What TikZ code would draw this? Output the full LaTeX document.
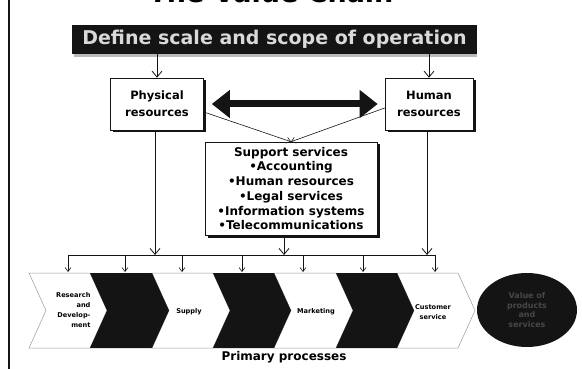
\documentclass[tikz,border=0pt]{standalone}
\usepackage{fontspec}
\setmainfont{DejaVu Sans}
\usetikzlibrary{arrows.meta,shapes.geometric,shadows,calc}

\definecolor{ink}{gray}{0.08}
\definecolor{rim}{gray}{0.6}

\tikzset{
  resbox/.style={draw=ink, line width=0.6pt, fill=white, align=center,
    font=\fontsize{11.5}{17}\selectfont\bfseries,
    drop shadow={shadow xshift=2.5pt, shadow yshift=-2.5pt, fill=ink, opacity=1}},
  feed/.style={draw=ink, line width=0.8pt, -{Straight Barb[length=6pt,width=10pt]}},
  tap/.style={draw=ink, line width=0.6pt, -{Straight Barb[length=4pt,width=6pt]}},
  whitechev/.style={draw=rim, line width=0.5pt, fill=white},
  darkchev/.style={fill=ink},
  steplabel/.style={font=\fontsize{6.6}{10}\selectfont\bfseries},
}

\begin{document}
\begin{tikzpicture}[x=1pt,y=-1pt]
\useasboundingbox (0,0) rectangle (582,369);
\clip (0,0) rectangle (582,369);

% title, running off the top edge
\node[font=\fontsize{27}{30}\selectfont\bfseries, anchor=base, inner sep=0] (title) at (271,2.5) {The Value Chain};

% left frame rule
\coordinate (frameT) at (9,0);
\coordinate (frameB) at (9,369);
\draw[line width=1.2pt, ink] (frameT) -- (frameB);

% scope banner with its grey shadow strip
\fill[gray!55] (74,53) rectangle (477,57);
\node[fill=ink, minimum width=405, minimum height=29, inner sep=0,
      text=gray!30, font=\fontsize{19}{20}\selectfont\bfseries] (scope) at (274.5,39.5)
      {Define scale and scope of operation};

% resource boxes
\node[resbox, minimum width=93, minimum height=52] (phys) at (157,104) {Physical\\resources};
\node[resbox, minimum width=88, minimum height=52] (human) at (429,104) {Human\\resources};

% support services
\node[resbox, minimum width=172, minimum height=93, inner sep=2pt,
      font=\fontsize{12}{14.7}\selectfont\bfseries] (support) at (291,188.5)
  {Support services\\
   •Accounting\\
   •Human resources\\
   •Legal services\\
   •Information systems\\
   •Telecommunications};

% banner feeds the two resource boxes
\draw[feed] (phys |- scope.south) -- (phys.north);
\draw[feed] (human |- scope.south) -- (human.north);

% exchange between the resource pools
\draw[ink, line width=7pt,
      {Triangle[length=18pt,width=27pt]}-{Triangle[length=18pt,width=27pt]},
      shorten <=8pt, shorten >=7pt] (phys.east) -- (human.west);

% both pools feed the support services
\draw[tap] ([yshift=-8pt]phys.east) -- (support.north);
\draw[tap] ([yshift=-4pt]human.west) -- (support.north);

% distribution bus
\coordinate (busL) at (68,255);
\coordinate (busR) at (435,255);
\draw[ink, line width=0.7pt] (busL) -- (busR);
\draw[feed] ([xshift=-2pt]phys.south) -- ([xshift=-2pt]phys.south |- busL);
\draw[feed] ([xshift=-2pt]human.south) -- ([xshift=-2pt]human.south |- busL);
\draw[feed] ([xshift=-7pt]support.south) -- ([xshift=-7pt]support.south |- busL);

% primary process chevrons
\foreach \xa/\xb/\kind in {29/90/whitechev, 152/213/whitechev, 274/336/whitechev, 397/458/whitechev}
  \draw[\kind] (\xa,273) -- (\xb,273) -- (\xb+17,310.5) -- (\xb,348) -- (\xa,348) -- (\xa+17,310.5) -- cycle;
\foreach \xa/\xb in {90/152, 213/274, 336/397}
  \fill[darkchev] (\xa,273) -- (\xb,273) -- (\xb+17,310.5) -- (\xb,348) -- (\xa,348) -- (\xa+17,310.5) -- cycle;

% taps from the bus into the chevrons
\foreach \x [count=\i] in {68,125,182,242,303,363,435} {
  \coordinate (tap\i) at (\x,272);
  \draw[tap] (\x,255) -- (tap\i);
}

% chevron labels
\node[steplabel, align=right, anchor=east] (rd) at (94,310) {Research\\and\\Develop-\\ment};
\node[steplabel] (supply) at (189,312) {Supply};
\node[steplabel] (marketing) at (316,312) {Marketing};
\node[steplabel, align=center] (custserv) at (433,312) {Customer\\service};

% outcome
\node[ellipse, fill=ink, minimum width=100, minimum height=74, inner sep=0,
      text=black!72, align=center, font=\fontsize{8}{9.5}\selectfont\bfseries] (value) at (527,310)
      {Value of\\products\\and\\services};

\node[font=\fontsize{12}{13}\selectfont\bfseries] (primary) at (284,357) {Primary processes};
\end{tikzpicture}
\end{document}
